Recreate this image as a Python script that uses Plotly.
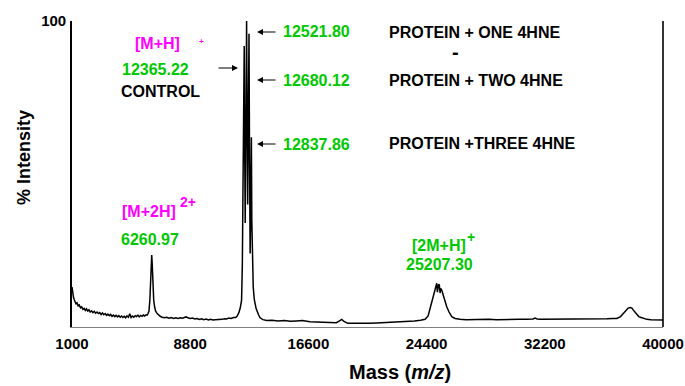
import plotly.graph_objects as go

# ---------------- data ----------------
mass = [
    1000, 1030, 1060, 1100, 1150, 1200, 1260, 1330, 1400, 1480, 1560, 1640, 1720,
    1800, 1880, 1960, 2040, 2120, 2200, 2290, 2380, 2470, 2560, 2650, 2740, 2830,
    2920, 3010, 3100, 3190, 3280, 3370, 3460, 3550, 3640, 3730, 3820, 3910, 4000,
    4090, 4180, 4270, 4360, 4450, 4540, 4630, 4720, 4810, 4900, 4990, 5080, 5170,
    5260, 5350, 5440, 5530, 5620, 5710, 5800, 5890, 5960, 6020, 6080,
    6140, 6200, 6240, 6261, 6290, 6320, 6350, 6392, 6450, 6520, 6620, 6720, 6820,
    6950, 7100, 7250, 7400, 7550, 7700, 7850, 8000, 8150, 8300, 8450, 8540, 8650,
    8800, 8950, 9100, 9250, 9400, 9550, 9700, 9850, 10000, 10150, 10300, 10450,
    10600, 10750, 10900, 11050, 11200, 11350, 11500, 11650, 11800, 11900, 12003,
    12102, 12190, 12240, 12290, 12335, 12365, 12395, 12430, 12470, 12522, 12555,
    12595, 12640, 12680, 12712, 12755, 12800, 12838, 12865, 12900, 12960, 13030,
    13150, 13310, 13410, 13600, 13850, 14200, 14600, 15000, 15400, 15800, 16200,
    16700, 17200, 17700, 18200, 18450, 18650, 18800, 18950, 19200, 19600, 20100,
    20600, 21100, 21600, 22100, 22600, 23100, 23600, 24000, 24300, 24500, 24630,
    24750, 24850, 24960, 25020, 25070, 25110, 25150, 25200, 25240, 25290, 25330,
    25400, 25460, 25520, 25620, 25730, 25880, 26060, 26280, 26600, 27000, 27500,
    28000, 28500, 29000, 29500, 30000, 30500, 31000, 31420, 31560, 31700, 31890,
    32300, 32800, 33300, 33800, 34300, 34800, 35300, 35800, 36300, 36700, 36950,
    37200, 37390, 37560, 37700, 37830, 37950, 38030, 38150, 38270, 38400, 38560,
    38750, 38930, 39200, 39480, 39750, 40000,
]
intensity = [
    13.1, 11.8, 10.6, 9.6, 8.9, 8.4, 7.6, 7.9, 6.9, 7.2, 6.3, 6.6, 5.8,
    6.1, 5.4, 5.9, 5.2, 5.6, 4.9, 5.3, 4.7, 5.1, 4.5, 4.9, 4.4, 4.7,
    4.1, 4.6, 4.0, 4.4, 3.8, 4.2, 3.7, 4.1, 3.5, 3.9, 3.4, 3.8, 3.3,
    3.7, 3.2, 3.6, 3.1, 3.5, 3.0, 3.6, 3.2, 4.3, 3.1, 3.6, 3.2, 3.7,
    3.4, 3.9, 3.3, 3.8, 3.5, 3.9, 3.6, 4.0, 3.9, 4.4, 5.2,
    9.0, 18.6, 21.5, 23.5, 21.0, 17.0, 12.5, 8.8, 6.6, 5.2, 4.4, 3.8, 3.5,
    3.2, 3.0, 3.2, 2.9, 3.1, 2.8, 3.0, 2.8, 3.0, 2.9, 3.2, 3.3, 3.0,
    2.8, 2.9, 2.6, 2.8, 2.5, 2.7, 2.4, 2.6, 2.3, 2.5, 2.3, 2.4,
    2.4, 2.6, 2.5, 2.7, 2.6, 2.9, 2.8, 3.1, 3.1, 3.6, 4.6,
    6.2, 8.8, 20.0, 55.0, 85.0, 91.8, 60.0, 34.0, 60.0, 100.0, 70.0,
    40.0, 70.0, 95.8, 60.0, 24.0, 40.0, 62.0, 35.0, 22.0, 13.0, 9.0,
    6.0, 4.0, 3.0, 2.4, 2.1, 2.2, 2.0, 2.1, 1.9, 2.0, 2.1,
    1.7, 1.6, 1.4, 1.3, 1.4, 2.0, 2.5, 1.8, 1.2, 1.2, 1.1,
    1.2, 1.3, 1.4, 1.5, 1.6, 1.8, 2.0, 2.2, 2.5, 3.6, 6.1,
    8.5, 9.9, 12.0, 13.5, 14.3, 11.4, 12.8, 14.0, 13.7, 11.1, 12.6,
    12.1, 11.0, 9.8, 8.0, 6.6, 4.9, 3.4, 2.8, 2.5, 2.4, 2.5,
    2.4, 2.5, 2.4, 2.5, 2.4, 2.5, 2.5, 2.6, 2.9, 2.6, 2.5,
    2.5, 2.6, 2.5, 2.6, 2.6, 2.7, 2.6, 2.7, 2.7, 2.8, 2.8,
    3.4, 4.5, 5.7, 6.2, 6.4, 6.2, 5.6, 4.8, 3.9, 3.4, 3.1,
    2.7, 2.5, 2.4, 2.3, 2.3, 2.3,
]
x_tick_values = [1000, 8800, 16600, 24400, 32200, 40000]
x_tick_labels = ["1000", "8800", "16600", "24400", "32200", "40000"]
y_tick_values = [100]
y_tick_labels = ["100"]

# ---------------- layout helpers ----------------
W, H = 685, 386
L, R, T, B = 72, 663, 21, 327     # plot area, in page pixels


def fx(px):
    return (px - L) / (R - L)


def fy(py):
    return (B - py) / (B - T)


FONT = "Liberation Sans, Arial, sans-serif"
GREEN = "#00c800"
MAGENTA = "#ff00ff"

fig = go.Figure()
fig.add_trace(go.Scatter(x=mass, y=intensity, mode="lines",
                         line=dict(color="black", width=1.5),
                         hoverinfo="skip", showlegend=False))


def txt(text, px, py, color="black", size=16, xanchor="center", angle=0):
    fig.add_annotation(text=text, x=fx(px), y=fy(py), xref="paper", yref="paper",
                       xanchor=xanchor, yanchor="middle", showarrow=False,
                       textangle=angle,
                       font=dict(family=FONT, size=size, color=color, weight="bold"))


def arrow(hx, hy, tx):
    fig.add_annotation(text="", x=fx(hx), y=fy(hy), xref="paper", yref="paper",
                       ax=tx - hx, ay=0, showarrow=True, arrowhead=2,
                       arrowsize=1, arrowwidth=1.2, arrowcolor="black", standoff=0)


txt("[M+H]", 157.5, 44, MAGENTA)
txt("+", 201, 42, MAGENTA, size=8)
txt("12365.22", 155.5, 69, GREEN)
txt("CONTROL", 160, 92)
txt("12521.80", 316, 32, GREEN)
txt("12680.12", 316, 80, GREEN)
txt("12837.86", 316, 144, GREEN)
txt("PROTEIN + ONE 4HNE", 387, 33, xanchor="left")
txt("-", 456, 52, size=20)
txt("PROTEIN + TWO 4HNE", 387, 80, xanchor="left")
txt("PROTEIN +THREE 4HNE", 387, 143, xanchor="left")
txt("[M+2H]", 149, 211, MAGENTA)
txt("2+", 187.5, 202, MAGENTA, size=14)
txt("6260.97", 150, 239, GREEN)
txt("[2M+H]", 438.5, 245, GREEN)
txt("+", 471, 237, GREEN, size=14)
txt("25207.30", 439, 264, GREEN)
txt("% Intensity", 24, 158, size=18, angle=-90)
txt("Mass (<i>m/z</i>)", 400.5, 372, size=20)

arrow(238, 68, 217)
arrow(257, 32, 277)
arrow(257, 80, 277)
arrow(257, 144, 277)

# right frame line
fig.add_shape(type="line", xref="paper", yref="paper", x0=1, x1=1, y0=0, y1=1,
              line=dict(color="black", width=1.6))

fig.update_layout(
    width=W, height=H,
    margin=dict(l=L, r=W - R, t=T, b=H - B, pad=0),
    paper_bgcolor="white", plot_bgcolor="white",
    xaxis=dict(range=[1000, 40000], tickvals=x_tick_values, ticktext=x_tick_labels,
               showgrid=False, zeroline=False, showline=True, linecolor="#808080",
               linewidth=1, ticks="", ticklabelstandoff=3, automargin=False,
               tickfont=dict(family=FONT, size=15, color="black", weight="bold")),
    yaxis=dict(range=[0, 100], tickvals=y_tick_values, ticktext=y_tick_labels,
               showgrid=False, zeroline=False, showline=True, linecolor="black",
               linewidth=1.6, ticks="", ticklabelstandoff=1, automargin=False,
               tickfont=dict(family=FONT, size=15, color="black", weight="bold")),
)

fig.write_html(
    "out.html",
    config={"displayModeBar": False},
    post_script="document.body.style.margin='0';"
                "document.documentElement.style.overflow='hidden';"
                "document.body.style.overflow='hidden';",
)
